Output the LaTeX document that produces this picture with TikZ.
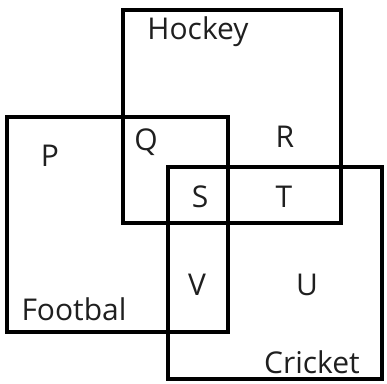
\documentclass[tikz,border=0pt]{standalone}
\usepackage{fontspec}
\setmainfont{Open Sans}
\begin{document}
\begin{tikzpicture}[x=1pt,y=1pt,
  setbox/.style={draw=black, line width=3.8pt, inner sep=0pt, outer sep=0pt},
  lbl/.style={font=\fontsize{30}{33}\selectfont, anchor=base, inner sep=0pt, text=black!88}]
\useasboundingbox (0,0) rectangle (387,383);
\node[setbox, minimum width=218pt, minimum height=213pt] (hockey) at (232,266.5) {};
\node[setbox, minimum width=221pt, minimum height=215pt] (football) at (117.5,158.5) {};
\node[setbox, minimum width=214pt, minimum height=212pt] (cricket) at (275,110) {};
\node[lbl] (lh) at (198,343) {Hockey};
\node[lbl] (lp) at (50,216) {P};
\node[lbl] (lq) at (146,232) {Q};
\node[lbl] (lr) at (285,235) {R};
\node[lbl] (ls) at (200,176) {S};
\node[lbl] (lt) at (284,176) {T};
\node[lbl] (lv) at (197,88) {V};
\node[lbl] (lu) at (307,88) {U};
\node[lbl] (lf) at (74,63) {Footbal};
\node[lbl] (lc) at (312,10) {Cricket};
\end{tikzpicture}
\end{document}
